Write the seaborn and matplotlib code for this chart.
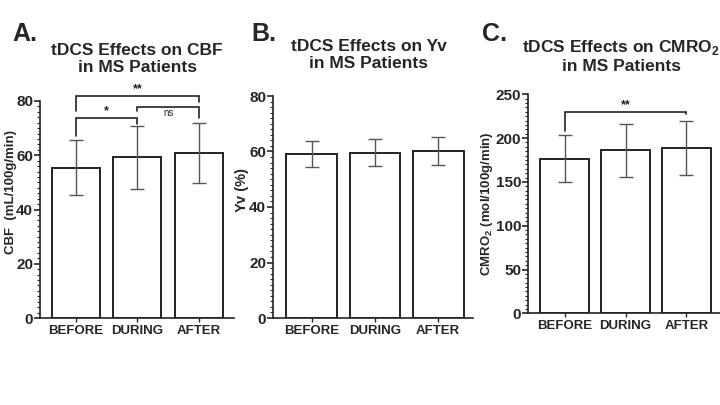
import numpy as np
import pandas as pd
import matplotlib
matplotlib.use("Agg")
import matplotlib.pyplot as plt
from matplotlib.ticker import MultipleLocator
import seaborn as sns

# ==========================================
# DATA (mean +/- SD)
# ==========================================

conditions = ["BEFORE", "DURING", "AFTER"]

cbf_mean = [55.4, 59.2, 60.9]
cbf_sd = [10.2, 11.7, 11.1]

yv_mean = [59.0, 59.6, 60.1]
yv_sd = [4.7, 4.9, 5.0]

cmro2_mean = [176.5, 186.1, 189.0]
cmro2_sd = [27.0, 30.5, 31.0]

# significance brackets: (left, right, height, label, left leg end, right leg end)
cbf_sig = [
    (0, 2, 81.9, "**", 76.2, 79.5),
    (1, 2, 77.8, "ns", 76.2, 73.9),
    (0, 1, 73.9, "*", 67.0, 71.6),
]
cmro2_sig = [
    (0, 2, 229.8, "**", 208.0, 227.0),
]

# ==========================================
# STYLE
# ==========================================

sns.set_style("ticks")
plt.rcParams["font.family"] = ["Liberation Sans", "DejaVu Sans"]
plt.rcParams["font.weight"] = "bold"
plt.rcParams["mathtext.fontset"] = "custom"
plt.rcParams["mathtext.rm"] = "Liberation Sans:bold"
plt.rcParams["mathtext.bf"] = "Liberation Sans:bold"

fig = plt.figure(figsize=(7.2, 4.05), dpi=100)
W, H = 720.0, 405.0


def px_axes(left, right, bottom, top):
    return fig.add_axes([left / W, 1 - bottom / H, (right - left) / W, (bottom - top) / H])


panels = [
    dict(rect=(40, 234, 318, 101), mean=cbf_mean, sd=cbf_sd, ymax=80, major=20, minor=2,
         xlim=(-0.585, 2.57), width=0.78,
         title="tDCS Effects on CBF\nin MS Patients", title_xy=(137, 59),
         ylabel="CBF  (mL/100g/min)", ylabel_xy=(11, 192), ylabel_size=9.5,
         letter="A.", letter_x=12, sig=cbf_sig),
    dict(rect=(273, 473, 318, 96), mean=yv_mean, sd=yv_sd, ymax=80, major=20, minor=2,
         xlim=(-0.61, 2.55), width=0.8,
         title="tDCS Effects on Yv\nin MS Patients", title_xy=(369, 55),
         ylabel="Yv (%)", ylabel_xy=(242, 190), ylabel_size=10.5,
         letter="B.", letter_x=251, sig=[]),
    dict(rect=(528, 720, 313.3, 94.3), mean=cmro2_mean, sd=cmro2_sd, ymax=250, major=50, minor=5,
         xlim=(-0.6, 2.55), width=0.8,
         title="tDCS Effects on CMRO$_2$\nin MS Patients", title_xy=(621, 56),
         ylabel="CMRO$_2$ (mol/100g/min)", ylabel_xy=(487, 204), ylabel_size=9.5,
         letter="C.", letter_x=482, sig=cmro2_sig),
]

for p in panels:
    ax = px_axes(*p["rect"])
    df = pd.DataFrame({"Condition": conditions, "Value": p["mean"]})

    sns.barplot(
        data=df, x="Condition", y="Value", ax=ax,
        color="white", edgecolor="#222222", linewidth=1.4,
        width=p["width"], errorbar=None
    )
    ax.errorbar(
        range(len(conditions)), p["mean"], yerr=p["sd"],
        fmt="none", ecolor="#555555", elinewidth=1.0, capsize=5, capthick=1.0
    )

    ax.set_xlim(*p["xlim"])
    ax.set_ylim(0, p["ymax"])
    ax.yaxis.set_major_locator(MultipleLocator(p["major"]))
    ax.yaxis.set_minor_locator(MultipleLocator(p["minor"]))
    ax.tick_params(axis="y", which="major", length=4, width=1.2, labelsize=11, pad=1)
    ax.tick_params(axis="y", which="minor", length=2, width=0.8)
    ax.tick_params(axis="x", length=3, width=1.0, labelsize=9.5, pad=2)
    for lab in ax.get_xticklabels() + ax.get_yticklabels():
        lab.set_fontweight("bold")

    sns.despine(ax=ax)
    for s in ["left", "bottom"]:
        ax.spines[s].set_linewidth(1.2)
        ax.spines[s].set_color("#222222")

    ax.set_xlabel("")
    ax.set_ylabel("")
    fig.text(p["ylabel_xy"][0] / W, 1 - p["ylabel_xy"][1] / H, p["ylabel"],
             rotation=90, ha="center", va="center", fontsize=p["ylabel_size"],
             fontweight="bold")

    # title and panel letter
    fig.text(p["title_xy"][0] / W, 1 - p["title_xy"][1] / H,
             p["title"], ha="center", va="center", fontsize=12.5,
             fontweight="bold", linespacing=1.1)
    fig.text(p["letter_x"] / W, 1 - 34 / H, p["letter"], ha="left", va="center",
             fontsize=18, fontweight="bold")

    # significance brackets
    for x0, x1, h, lab, l0, l1 in p["sig"]:
        ax.plot([x0, x0, x1, x1], [l0, h, h, l1], color="#222222", lw=1.2,
                clip_on=False, solid_joinstyle="miter")
        if lab == "ns":
            ax.text((x0 + x1) / 2, h - p["ymax"] * 0.005, lab, ha="center", va="top",
                    fontsize=7, fontweight="normal")
        else:
            ax.text((x0 + x1) / 2, h + p["ymax"] * 0.003, lab, ha="center", va="bottom",
                    fontsize=9, fontweight="bold")

fig.savefig("out.png", dpi=100)
